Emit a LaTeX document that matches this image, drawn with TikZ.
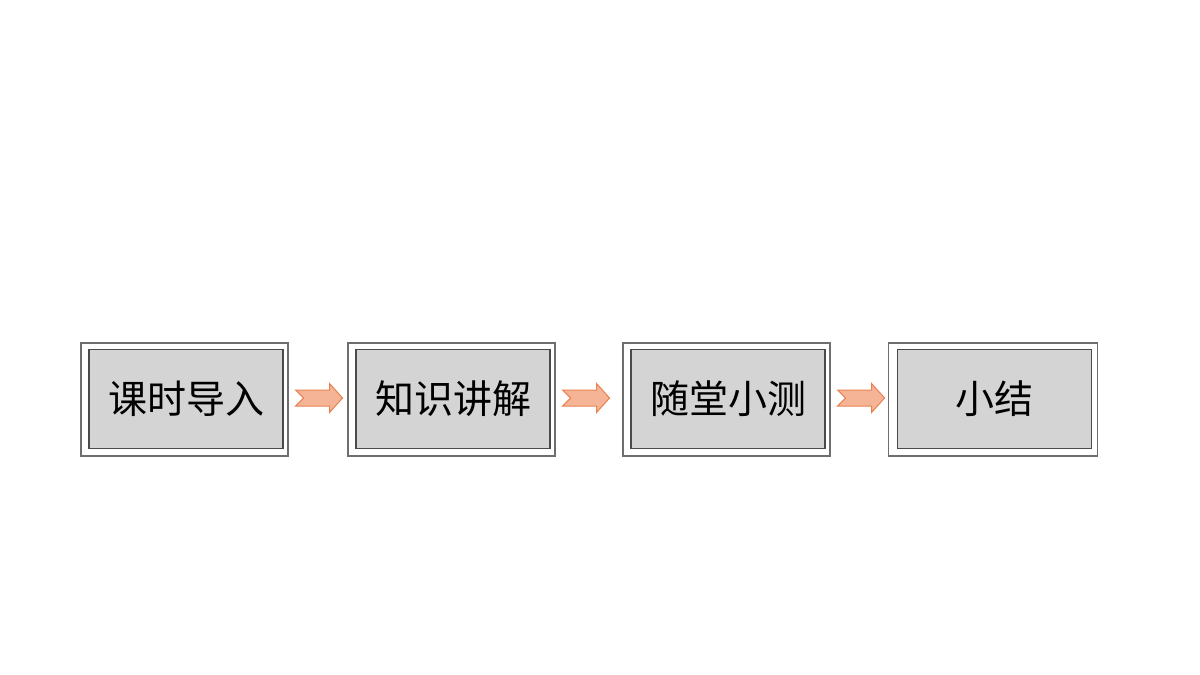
\documentclass[tikz,border=0pt]{standalone}
\usepackage{fontspec}
\newfontfamily\cjk{Noto Sans CJK SC}
\usetikzlibrary{calc}
\definecolor{boxgray}{HTML}{D4D4D4}
\definecolor{outerline}{HTML}{6E6E6E}
\definecolor{innerline}{HTML}{4A4A4A}
\definecolor{arrowfill}{HTML}{F6B497}
\definecolor{arrowline}{HTML}{E98151}
\tikzset{
  outerbox/.style={draw=outerline, line width=1.1pt, fill=white, minimum width=207pt, minimum height=113pt, inner sep=0pt},
  innerbox/.style={draw=innerline, line width=1.1pt, fill=boxgray, minimum width=194pt, minimum height=99pt, inner sep=0pt, font=\cjk\fontsize{39}{47}\selectfont, text=black},
  blockarrow/.style={draw=arrowline, line width=1pt, fill=arrowfill, line join=miter}
}
\begin{document}
\begin{tikzpicture}[x=1pt,y=-1pt]
\useasboundingbox (0,0) rectangle (1200,675);
\node[outerbox] (o1) at (184.5,399.5) {};
\node[outerbox] (o2) at (451.5,399.5) {};
\node[outerbox] (o3) at (726.5,399.5) {};
\node[outerbox, minimum width=209pt] (o4) at (993,399.5) {};
\node[innerbox] (i1) at ($(o1.center)+(1.5,-0.5)$) {课时导入};
\node[innerbox] (i2) at ($(o2.center)+(1.5,-0.5)$) {知识讲解};
\node[innerbox] (i3) at ($(o3.center)+(1.5,-0.5)$) {随堂小测};
\node[innerbox] (i4) at ($(o4.center)+(1.5,-0.5)$) {小结};
\foreach \a in {o1,o2,o3}{
  \draw[blockarrow] ($(\a.east)+(7,-1.5)$) ++(0,-8) -- ++(34,0) -- ++(0,-6.5) -- ++(13,14.5) -- ++(-13,14.5) -- ++(0,-6.5) -- ++(-34,0) -- ++(8,-8) -- cycle;
}
\end{tikzpicture}
\end{document}
